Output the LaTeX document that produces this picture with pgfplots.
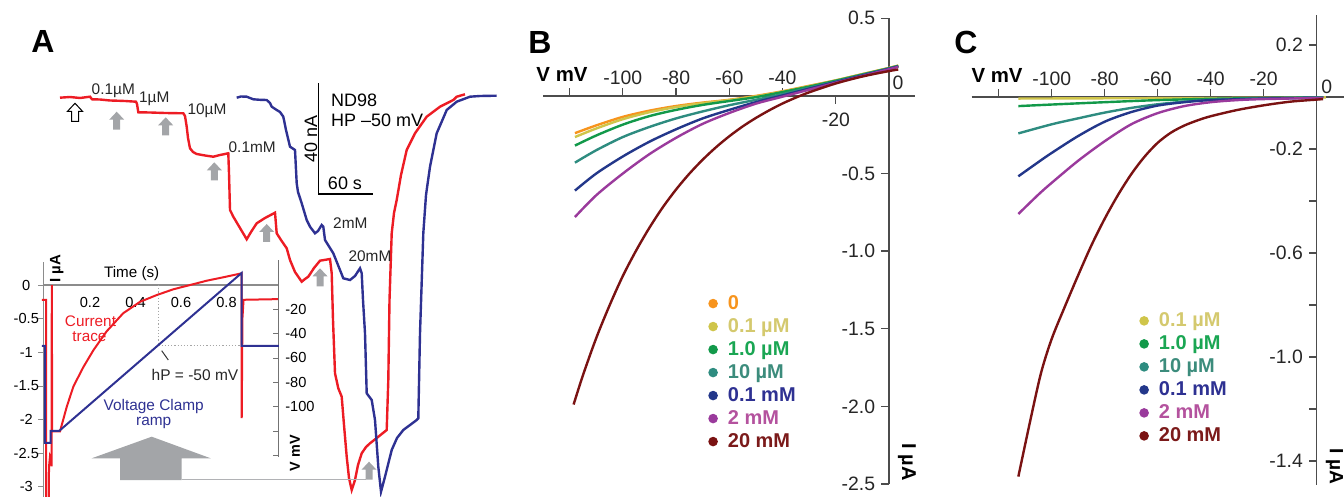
\documentclass[border=0pt]{standalone}
\usepackage{fontspec}
\setmainfont{Liberation Sans}
\usepackage{pgfplots}
\pgfplotsset{compat=1.18}

\definecolor{trred}{HTML}{ED1C24}
\definecolor{trblue}{HTML}{2E3192}
\definecolor{c0}{HTML}{F7941D}
\definecolor{c1}{HTML}{CFC54A}
\definecolor{c2}{HTML}{12994A}
\definecolor{c3}{HTML}{2E8C80}
\definecolor{c4}{HTML}{23378A}
\definecolor{c5}{HTML}{9A3A9C}
\definecolor{c6}{HTML}{7A1212}
\definecolor{l1}{HTML}{D4C96E}
\definecolor{l2}{HTML}{1AA653}
\definecolor{l3}{HTML}{3C8C7C}
\definecolor{l4}{HTML}{2E3192}
\definecolor{l5}{HTML}{B4529E}
\definecolor{l6}{HTML}{7B1A1A}
\definecolor{arrgray}{HTML}{A3A5A8}

% up arrow, tip at (x,y) in pixel units of the canvas (y grows downwards)
\newcommand{\arrowshape}[3]{%
  \path[#1] ({#2},{#3}) -- ({#2+7.5},{#3+8}) -- ({#2+3.5},{#3+8}) -- ({#2+3.5},{#3+18})
    -- ({#2-3.5},{#3+18}) -- ({#2-3.5},{#3+8}) -- ({#2-7.5},{#3+8}) -- cycle;}

\pgfplotsset{
  ivcurve/.style={line width=1.2pt, smooth},
  ivlegend/.style={
    legend style={draw=none, fill=none, inner sep=0pt,
      font=\fontsize{10}{12}\bfseries\selectfont,
      nodes={inner sep=1pt, text height=0.75em, text depth=0.2em}, row sep=0pt},
    legend cell align=left,
    legend image code/.code={\fill (0cm,0cm) circle (1.75pt);
      \path[draw=none, fill=none] (6.3pt,0) circle (0.1pt);}},
  ivaxis/.style={
    scale only axis, anchor=south west,
    axis x line=middle, axis y line=middle,
    axis line style={-, black!70, line width=0.65pt},
    tick align=center, major tick length=3.8pt,
    tick style={black!70, line width=0.65pt},
    xtick style={yshift=1.9pt}, ytick style={xshift=-1.9pt},
    tick label style={font=\fontsize{9.7}{11}\selectfont, text=black!85},
    xticklabel style={anchor=center, yshift=11pt},
    yticklabel style={anchor=east, xshift=-1.5pt},
    clip=false},
}

\begin{document}
\begin{tikzpicture}
\path[use as bounding box] (0,0) rectangle (672pt,248.5pt);

% canvas in pixel units: panel A time course, labels, arrows
\begin{axis}[at={(0,0)}, anchor=south west, scale only axis,
  width=672pt, height=248.5pt, xmin=0, xmax=1344, ymin=0, ymax=497,
  y dir=reverse, hide axis, clip=false]
\coordinate (Isw) at (43.3,497);
\coordinate (Vsw) at (43.3,456.7);
\coordinate (Bsw) at (543,484);
\coordinate (Csw) at (971.7,485);

\addplot[trred, line width=1.2pt] coordinates {
(60,97.7)(70,97)(80,98)(90,96.7)(92,99.3)(100,99.5)(110,100.5)(116.7,100.7)(125,101)
(136,101.7)(137,104)(138.3,112.3)(150,112.5)(165,113)(183.3,113.3)(185,116)(186.7,126.7)
(188,138)(190,148.3)(193,152)(196.7,154)(205,155.5)(213.3,156.7)(220,155)(228.3,153.3)
(229,173.3)(230,210)(233.3,216.7)(240,228)(246.7,239.3)(251,232)(256.7,223.3)(265,218)
(275,212.7)(276.7,233.3)(281,240)(286.7,248.3)(290,260)(295,272)(301.7,281.7)(305,279)
(308.3,276.7)(314,268)(320,260.7)(330,259)(331.7,273.3)(333,320)(335,373.3)(338.3,388.3)
(341.7,396.7)(344,425)(346.7,456.7)(349,478)(351.7,490)(355,480)(358,465)(361.7,453.3)
(366,447)(370,443.3)(378,437)(386.7,430)(388.3,380)(389.5,300)(391.7,233.3)(394,213)
(396.7,200)(401,175)(406.7,150)(415,133.3)(426.7,116.7)(440,106.7)(453.3,100)(456.7,96.7)
(465,94.3)};
\addplot[trblue, line width=1.2pt] coordinates {
(236.7,97.7)(241,96.5)(246.7,96.7)(250,98)(253.3,99.3)(260,99.8)(266.7,100)(270,103)
(271.7,106.7)(276.7,110)(280,112)(283.3,116.7)(286,130)(290,146.7)(295,150)(296.7,183.3)
(298,192)(300,198)(301.7,203.3)(306.7,220)(310,226.7)(315,233.3)(318,231)(321.7,225)
(323.3,226.7)(325,240)(333.3,253.3)(338,265)(343.3,278.3)(350,280)(355,276)(360,268.3)
(361.7,273.3)(363,300)(365,333.3)(366.7,393.3)(371.7,400)(375,420)(378.3,466.7)(381,491.7)
(385,476.7)(391.7,450)(397,438)(403.3,430)(416.7,420)(418.3,418.3)(420,333.3)(423.3,233.3)
(426,195)(430,166.7)(436.7,133.3)(446.7,110)(456.7,101.7)(470,96.7)(480,96)(496.7,95.7)};

% arrows
\arrowshape{fill=white, draw=black, line width=0.5pt}{75}{103.3}
\arrowshape{fill=arrgray}{116.7}{111.7}
\arrowshape{fill=arrgray}{165.7}{117.3}
\arrowshape{fill=arrgray}{214.3}{162.3}
\arrowshape{fill=arrgray}{266.7}{224}
\arrowshape{fill=arrgray}{320}{268.3}
\draw[arrgray!85, line width=0.8pt] (181.7,479.3) -- (366,479.3);
\arrowshape{fill=arrgray}{369}{461.7}
\fill[arrgray] (91.7,458.3) -- (151.7,436.7) -- (210.7,458.3) -- (181.7,458.3)
  -- (181.7,480) -- (120,480) -- (120,458.3) -- cycle;

% concentration labels
\begin{scope}[every node/.style={font=\fontsize{7.7}{9}\selectfont, text=black!85}]
\node at (113.3,90.8) {0.1µM};
\node at (154.3,99.2) {1µM};
\node at (207,110.8) {10µM};
\node at (252.2,147.5) {0.1mM};
\node at (350.3,223.3) {2mM};
\node at (370,256) {20mM};
\end{scope}

% scale bar
\draw[black, line width=0.8pt] (318.3,83.3) -- (318.3,194.3) -- (373.3,194.3);
\node[anchor=west, font=\fontsize{9}{10}\selectfont] at (324,100) {ND98};
\node[anchor=west, font=\fontsize{9}{10}\selectfont] at (324,120.8) {HP –50 mV};
\node[rotate=90, font=\fontsize{9}{10}\selectfont] at (310.8,139) {40 nA};
\node[font=\fontsize{9}{10}\selectfont] at (345,183.3) {60 s};

% inset annotations
\node[font=\fontsize{7.6}{9}\selectfont] at (131.7,273.3) {Time (s)};
\node[rotate=90, font=\fontsize{7.5}{9}\bfseries\selectfont] at (56.7,269) {I µA};
\node[rotate=90, font=\fontsize{7.2}{9}\bfseries\selectfont] at (295,453) {V mV};
\node[text=trred, font=\fontsize{7.65}{9}\selectfont] at (90.5,321.7) {Current};
\node[text=trred, font=\fontsize{7.65}{9}\selectfont] at (89.5,336.7) {trace};
\node[text=trblue, font=\fontsize{7.7}{9}\selectfont] at (153.7,406.7) {Voltage Clamp};
\node[text=trblue, font=\fontsize{7.7}{9}\selectfont] at (153.7,422.7) {ramp};
\node[text=black!85, font=\fontsize{7.75}{9}\selectfont] at (195,375) {hP = -50 mV};
\draw[black!80, line width=0.5pt] (161.7,350.7) -- (168.3,360);

% panel letters
\node[font=\fontsize{16}{18}\bfseries\selectfont] at (43,41) {A};
\node[font=\fontsize{16}{18}\bfseries\selectfont] at (540,42) {B};
\node[font=\fontsize{16}{18}\bfseries\selectfont] at (966,42) {C};

% I-V axis labels
\node[font=\fontsize{10.2}{12}\bfseries\selectfont] at (562,74) {V mV};
\node[font=\fontsize{10.2}{12}\bfseries\selectfont] at (997,75) {V mV};
\node[rotate=-90, font=\fontsize{10}{12}\bfseries\selectfont] at (907,462) {I µA};
\node[rotate=-90, inner sep=0pt, font=\fontsize{9.6}{12}\bfseries\selectfont] at (1334.5,466.7) {I µA};
\node[font=\fontsize{9.7}{11}\selectfont, text=black!85] at (898,83) {0};
\node[font=\fontsize{9.7}{11}\selectfont, text=black!85] at (1326.7,86.7) {0};
\node[font=\fontsize{9.7}{11}\selectfont, text=black!85] at (836,120) {-20};
\end{axis}

% inset: current during the ramp
\begin{axis}[at={(Isw)}, anchor=south west, scale only axis,
  width=117.5pt, height=117.65pt,
  xmin=-0.0053, xmax=1.0277, ymin=-3.155, ymax=0.347,
  axis x line=middle, axis y line=left,
  axis line style={-, black!45, line width=0.6pt},
  xtick={0.2,0.4,0.6,0.8}, xticklabels={0.2,0.4,0.6,0.8}, xtick style={draw=none},
  ytick={-3,-2.5,-2,-1.5,-1,-0.5,0}, yticklabels={-3,-2.5,-2,-1.5,-1,-0.5,0},
  tick align=outside, major tick length=2.5pt, ytick style={black!45},
  tick label style={font=\fontsize{7.3}{8}\selectfont},
  yticklabel style={anchor=center, xshift=-6pt},
  clip=false]
\addplot[trred, line width=1pt] coordinates {
(-0.012,-0.22)(0.007,-0.22)(0.007,-3.4)(0.018,-3.4)(0.020,-2.7)(0.024,-2.55)(0.029,-2.6)
(0.031,-2.7)(0.032,0)(0.034,-2.18)(0.068,-2.18)(0.098,-1.81)(0.127,-1.51)(0.171,-1.22)
(0.215,-0.97)(0.273,-0.69)(0.346,-0.42)(0.42,-0.25)(0.493,-0.15)(0.566,-0.064)(0.64,0)
(0.713,0.064)(0.786,0.115)(0.867,0.174)(0.867,-1.98)(0.870,-0.5)(0.875,-0.22)(1.03,-0.21)};
\end{axis}

% inset: voltage clamp ramp
\begin{axis}[at={(Vsw)}, anchor=south west, scale only axis,
  width=117.5pt, height=98.35pt,
  xmin=-0.0053, xmax=1.0277, ymin=-141.3, ymax=20.6,
  axis x line=none, axis y line=right,
  axis line style={-, black!55, line width=0.6pt},
  ytick={-140,-120,-100,-80,-60,-40,-20}, yticklabels={,,-100,-80,-60,-40,-20},
  tick align=inside, major tick length=2.5pt, ytick style={black!55},
  tick label style={font=\fontsize{7.3}{8}\selectfont},
  clip=false]
\addplot[gray!70, densely dotted, line width=0.6pt] coordinates {(0.5,0)(0.5,-50)(1.025,-50)};
\addplot[trblue, line width=1pt] coordinates {
(-0.012,-50)(0.002,-50)(0.002,-130)(0.027,-130)(0.027,-120)(0.065,-120)(0.867,10)
(0.867,-50)(1.03,-50)};
\end{axis}

% B: I-V curves
\begin{axis}[ivaxis, ivlegend, at={(Bsw)},
  width=186pt, height=232.85pt,
  xmin=-130, xmax=9.8, ymin=-2.5, ymax=0.5,
  xtick={-120,-100,-80,-60,-40}, xticklabels={,-100,-80,-60,-40},
  extra x ticks={-20}, extra x tick labels={},
  extra x tick style={xtick style={yshift=-3.8pt}},
  ytick={-2.5,-2,-1.5,-1,-0.5,0.5}, yticklabels={-2.5,-2.0,-1.5,-1.0,-0.5,0.5},
  legend style={at={(0.4435,0.413)}, anchor=north west}]
\addplot[c0, ivcurve] coordinates {
(-118,-0.24)(-110,-0.19)(-100,-0.135)(-90,-0.095)(-80,-0.065)(-70,-0.043)(-60,-0.025)
(-50,0.0)(-40,0.03)(-30,0.065)(-20,0.10)(-10,0.14)(0,0.18)(3.5,0.195)};
\addlegendentry{\textcolor{c0}{0}}
\addplot[c1, ivcurve] coordinates {
(-118,-0.265)(-110,-0.21)(-100,-0.15)(-90,-0.105)(-80,-0.072)(-70,-0.047)(-60,-0.027)
(-50,-0.003)(-40,0.028)(-30,0.063)(-20,0.1)(-10,0.14)(0,0.18)(3.5,0.195)};
\addlegendentry{\textcolor{l1}{0.1 µM}}
\addplot[c2, ivcurve] coordinates {
(-118,-0.32)(-110,-0.255)(-100,-0.185)(-90,-0.13)(-80,-0.09)(-70,-0.058)(-60,-0.033)
(-50,-0.008)(-40,0.025)(-30,0.06)(-20,0.098)(-10,0.138)(0,0.178)(3.5,0.193)};
\addlegendentry{\textcolor{l2}{1.0 µM}}
\addplot[c3, ivcurve] coordinates {
(-118,-0.43)(-110,-0.35)(-100,-0.265)(-90,-0.2)(-80,-0.145)(-70,-0.1)(-60,-0.06)
(-50,-0.025)(-40,0.012)(-30,0.052)(-20,0.093)(-10,0.135)(0,0.177)(3.5,0.192)};
\addlegendentry{\textcolor{l3}{10 µM}}
\addplot[c4, ivcurve] coordinates {
(-118,-0.61)(-110,-0.5)(-100,-0.39)(-90,-0.295)(-80,-0.215)(-70,-0.145)(-60,-0.09)
(-50,-0.04)(-40,0.003)(-30,0.047)(-20,0.09)(-10,0.132)(0,0.175)(3.5,0.19)};
\addlegendentry{\textcolor{l4}{0.1 mM}}
\addplot[c5, ivcurve] coordinates {
(-118,-0.78)(-110,-0.64)(-100,-0.5)(-90,-0.375)(-80,-0.27)(-70,-0.18)(-60,-0.11)
(-50,-0.05)(-40,-0.005)(-30,0.04)(-20,0.085)(-10,0.128)(0,0.172)(3.5,0.187)};
\addlegendentry{\textcolor{l5}{2 mM}}
\addplot[c6, ivcurve] coordinates {
(-118.5,-1.988)(-115,-1.80)(-110,-1.56)(-105,-1.35)(-100,-1.16)(-95,-0.996)(-90,-0.849)
(-85,-0.718)(-80,-0.603)(-75,-0.501)(-70,-0.411)(-65,-0.331)(-60,-0.26)(-55,-0.197)
(-50,-0.142)(-45,-0.093)(-40,-0.049)(-35,-0.011)(-30,0.023)(-20,0.08)(-10,0.125)
(0,0.16)(3.5,0.17)};
\addlegendentry{\textcolor{l6}{20 mM}}
\end{axis}

% C: I-V curves
\begin{axis}[ivaxis, ivlegend, at={(Csw)},
  width=186.15pt, height=235pt,
  xmin=-130.2, xmax=10.3, ymin=-1.4923, ymax=0.3154,
  xtick={-120,-100,-80,-60,-40,-20}, xticklabels={,-100,-80,-60,-40,-20},
  ytick={-1.4,-1.2,-1.0,-0.8,-0.6,-0.4,-0.2,0.2},
  yticklabels={-1.4,,-1.0,,-0.6,,-0.2,0.2},
  legend style={at={(0.4494,0.3745)}, anchor=north west}]
\addplot[c1, ivcurve] coordinates {
(-112.6,-0.006)(-80,-0.005)(-40,-0.004)(0,-0.002)(2.4,-0.001)};
\addlegendentry{\textcolor{l1}{0.1 µM}}
\addplot[c2, ivcurve] coordinates {
(-112.6,-0.035)(-100,-0.029)(-80,-0.02)(-60,-0.012)(-40,-0.007)(-20,-0.004)(0,-0.002)(2.4,-0.002)};
\addlegendentry{\textcolor{l2}{1.0 µM}}
\addplot[c3, ivcurve] coordinates {
(-112.6,-0.14)(-100,-0.105)(-90,-0.082)(-80,-0.06)(-70,-0.042)(-60,-0.028)(-50,-0.018)
(-40,-0.011)(-20,-0.005)(0,-0.002)(2.4,-0.002)};
\addlegendentry{\textcolor{l3}{10 µM}}
\addplot[c4, ivcurve] coordinates {
(-112.6,-0.305)(-105,-0.25)(-100,-0.215)(-90,-0.15)(-80,-0.095)(-70,-0.058)(-60,-0.033)
(-50,-0.02)(-40,-0.012)(-20,-0.006)(0,-0.003)(2.4,-0.003)};
\addlegendentry{\textcolor{l4}{0.1 mM}}
\addplot[c5, ivcurve] coordinates {
(-112.6,-0.45)(-105,-0.375)(-100,-0.33)(-90,-0.245)(-80,-0.17)(-70,-0.105)(-60,-0.062)
(-50,-0.035)(-40,-0.02)(-30,-0.012)(-20,-0.008)(0,-0.004)(2.4,-0.004)};
\addlegendentry{\textcolor{l5}{2 mM}}
\addplot[c6, ivcurve] coordinates {
(-112.6,-1.46)(-108,-1.24)(-104,-1.06)(-100,-0.93)(-95,-0.805)(-90,-0.685)(-85,-0.57)
(-80,-0.468)(-75,-0.377)(-70,-0.297)(-65,-0.23)(-60,-0.176)(-55,-0.137)(-50,-0.11)
(-45,-0.09)(-40,-0.074)(-30,-0.05)(-20,-0.032)(-10,-0.018)(0,-0.01)(2.4,-0.008)};
\addlegendentry{\textcolor{l6}{20 mM}}
\end{axis}
\end{tikzpicture}
\end{document}
